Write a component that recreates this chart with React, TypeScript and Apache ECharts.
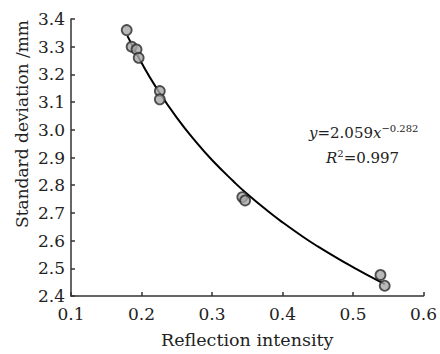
import React, { useEffect, useRef } from "react";
import * as echarts from "echarts";

const xTicks = [0.1, 0.2, 0.3, 0.4, 0.5, 0.6];
const yTicks = [2.4, 2.5, 2.6, 2.7, 2.8, 2.9, 3.0, 3.1, 3.2, 3.3, 3.4];

const pointX = [0.179, 0.186, 0.193, 0.196, 0.226, 0.226, 0.343, 0.347, 0.539, 0.545];
const pointY = [3.36, 3.30, 3.29, 3.26, 3.14, 3.11, 2.757, 2.745, 2.476, 2.437];

const curveX = [0.18, 0.2, 0.22, 0.25, 0.28, 0.3, 0.33, 0.35, 0.38, 0.4, 0.43, 0.45, 0.48, 0.5, 0.52, 0.545];
const curveY = [3.339, 3.242, 3.156, 3.044, 2.948, 2.891, 2.815, 2.768, 2.705, 2.666, 2.612, 2.579, 2.533, 2.504, 2.476, 2.443];

const xTitle = "Reflection intensity";
const yTitle = "Standard deviation /mm";

const FONT = "DejaVu Serif";

export default function App() {
  const ref = useRef<HTMLDivElement>(null);
  useEffect(() => {
    if (!ref.current) return;
    const chart = echarts.init(ref.current, null, { renderer: "svg" });
    const axisCommon = {
      axisLine: { show: true, lineStyle: { color: "#333", width: 1.5 } },
      axisTick: { show: true, inside: true, length: 4, lineStyle: { color: "#333", width: 1.5 } },
      splitLine: { show: false },
      axisLabel: { color: "#222", fontFamily: FONT, fontSize: 17 },
    };
    chart.setOption({
      animation: false,
      backgroundColor: "#fff",
      grid: { left: 71, top: 19, right: 15, bottom: 56 },
      xAxis: {
        type: "value",
        min: 0.1,
        max: 0.6,
        interval: 0.1,
        ...axisCommon,
        axisLabel: {
          ...axisCommon.axisLabel,
          margin: 9,
          formatter: (v: number) => {
            const t = xTicks.find((k) => Math.abs(k - v) < 1e-6);
            return t !== undefined ? t.toFixed(1) : "";
          },
        },
        name: xTitle,
        nameLocation: "middle",
        nameGap: 35,
        nameTextStyle: { color: "#222", fontFamily: FONT, fontSize: 17.5 },
      },
      yAxis: {
        type: "value",
        min: 2.4,
        max: 3.4,
        interval: 0.1,
        ...axisCommon,
        axisLabel: {
          ...axisCommon.axisLabel,
          margin: 6,
          formatter: (v: number) => {
            const t = yTicks.find((k) => Math.abs(k - v) < 1e-6);
            return t !== undefined ? t.toFixed(1) : "";
          },
        },
      },
      graphic: [
        {
          type: "text",
          x: 22,
          y: 124,
          rotation: Math.PI / 2,
          style: {
            text: yTitle,
            fontFamily: FONT,
            fontSize: 17,
            fill: "#222",
            align: "center",
            verticalAlign: "middle",
          },
        },
        {
          type: "text",
          x: 309,
          y: 133,
          style: {
            text: "{i|y}=2.059{i|x}{s|−0.282}",
            fontFamily: FONT,
            fontSize: 15,
            fill: "#222",
            verticalAlign: "middle",
            rich: {
              i: { fontStyle: "italic", fontFamily: FONT, fontSize: 15, fill: "#222" },
              s: { fontFamily: FONT, fontSize: 10, fill: "#222", padding: [0, 0, 10, 0] },
            },
          },
        },
        {
          type: "text",
          x: 326,
          y: 158,
          style: {
            text: "{i|R}{s|2}=0.997",
            fontFamily: FONT,
            fontSize: 15,
            fill: "#222",
            verticalAlign: "middle",
            rich: {
              i: { fontStyle: "italic", fontFamily: FONT, fontSize: 15, fill: "#222" },
              s: { fontFamily: FONT, fontSize: 10, fill: "#222", padding: [0, 0, 10, 0] },
            },
          },
        },
      ],
      series: [
        {
          type: "line",
          data: curveX.map((x, i) => [x, curveY[i]]),
          smooth: true,
          showSymbol: false,
          lineStyle: { color: "#000", width: 2 },
          z: 2,
        },
        {
          type: "scatter",
          data: pointX.map((x, i) => [x, pointY[i]]),
          symbol: "circle",
          symbolSize: 10,
          itemStyle: { color: "#a8a8a8", borderColor: "#2a2a2a", borderWidth: 1.8 },
          z: 3,
        },
      ],
    });
    return () => chart.dispose();
  }, []);
  return <div ref={ref} style={{ width: 440, height: 354, position: "absolute", left: 0, top: 0 }} />;
}
